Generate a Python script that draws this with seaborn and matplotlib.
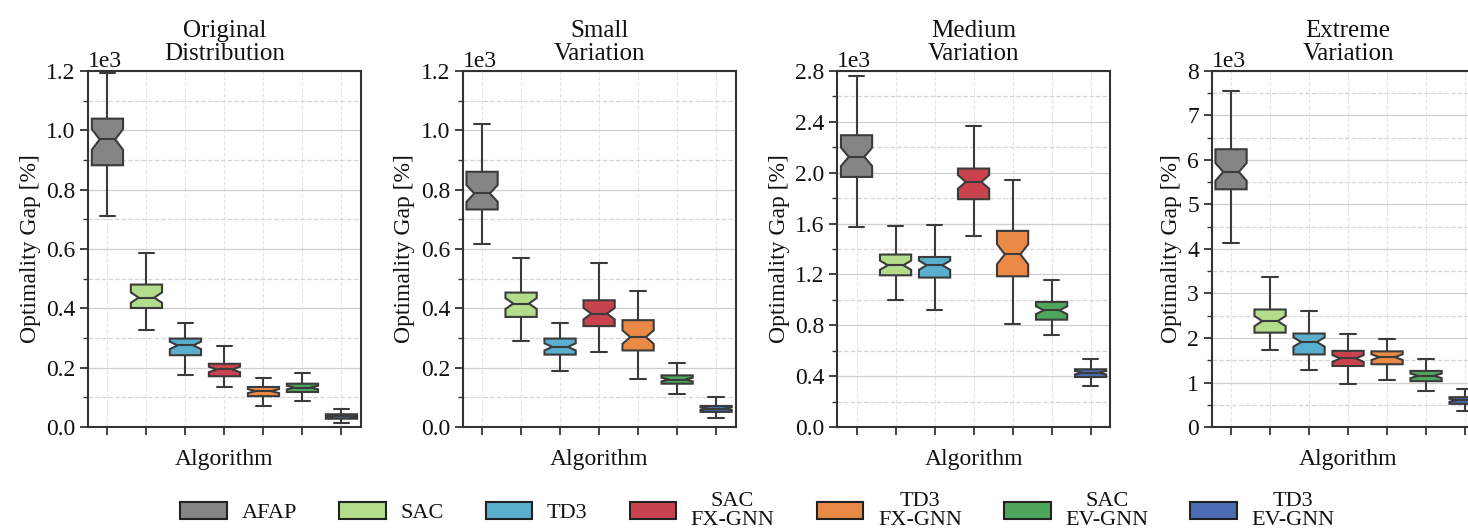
import numpy as np
import pandas as pd
import matplotlib
matplotlib.use("Agg")
import matplotlib.pyplot as plt
from matplotlib.ticker import MultipleLocator
import seaborn as sns

# ---------------- data (optimality gap in %) ----------------
algorithms = ["AFAP", "SAC", "TD3", "SAC\nFX-GNN", "TD3\nFX-GNN", "SAC\nEV-GNN", "TD3\nEV-GNN"]
colors = ["#858585", "#b3dc8b", "#5aafcf", "#c9434f", "#eb8a47", "#4ea65d", "#4a6db5"]
panel_titles = ["Original\nDistribution", "Small\nVariation", "Medium\nVariation", "Extreme\nVariation"]

# five-number summaries per algorithm: whisker low, Q1, median, Q3, whisker high
orig_low = [710, 326, 176, 135, 72, 87, 15]
orig_q1 = [882, 401, 242, 171, 104, 118, 28]
orig_med = [969, 436, 275, 194, 121, 133, 36]
orig_q3 = [1039, 480, 298, 213, 135, 146, 43]
orig_high = [1193, 588, 351, 272, 165, 182, 61]

small_low = [615, 289, 189, 253, 163, 110, 31]
small_q1 = [733, 371, 244, 340, 258, 146, 51]
small_med = [787, 416, 270, 382, 303, 160, 62]
small_q3 = [860, 453, 298, 427, 360, 174, 71]
small_high = [1022, 570, 351, 553, 458, 216, 101]

medium_low = [1573, 996, 918, 1502, 808, 721, 322]
medium_q1 = [1966, 1193, 1175, 1791, 1185, 844, 393]
medium_med = [2124, 1272, 1272, 1927, 1358, 918, 427]
medium_q3 = [2294, 1356, 1337, 2032, 1542, 983, 454]
medium_high = [2758, 1578, 1586, 2365, 1945, 1159, 537]

extreme_low = [4140, 1720, 1290, 970, 1060, 800, 370]
extreme_q1 = [5340, 2120, 1630, 1370, 1410, 1030, 520]
extreme_med = [5730, 2380, 1910, 1540, 1570, 1150, 600]
extreme_q3 = [6240, 2640, 2100, 1710, 1700, 1260, 670]
extreme_high = [7550, 3360, 2610, 2100, 1970, 1530, 860]

y_max = [1200, 1200, 2800, 8000]
y_major = [200, 200, 400, 1000]
y_minor = [100, 100, 200, 500]

summaries = [
    (orig_low, orig_q1, orig_med, orig_q3, orig_high),
    (small_low, small_q1, small_med, small_q3, small_high),
    (medium_low, medium_q1, medium_med, medium_q3, medium_high),
    (extreme_low, extreme_q1, extreme_med, extreme_q3, extreme_high),
]

SAMPLES_PER_STAT = 10  # sample size behind the notches (n = 5 * 10)


def summary_frame(stats):
    rows = []
    for i, alg in enumerate(algorithms):
        for series in stats:
            rows += [(alg, series[i])] * SAMPLES_PER_STAT
    return pd.DataFrame(rows, columns=["Algorithm", "Gap"])


# ---------------- style ----------------
sns.set_theme(style="white")
plt.rcParams["font.family"] = ["Liberation Serif", "DejaVu Serif"]
plt.rcParams["axes.edgecolor"] = "#333333"
plt.rcParams["text.color"] = "#111111"
plt.rcParams["axes.labelcolor"] = "#111111"
plt.rcParams["xtick.color"] = "#333333"
plt.rcParams["ytick.color"] = "#333333"
plt.rcParams["ytick.labelcolor"] = "#111111"

fig = plt.figure(figsize=(14.68, 5.30), dpi=100)

lefts = [0.0599, 0.3151, 0.5702, 0.8253]
bottom, width, height = 0.1943, 0.186, 0.672
edge = "#3b3b3b"

axes = []
for k in range(4):
    ax = fig.add_axes([lefts[k], bottom, width, height])
    axes.append(ax)
    df = summary_frame(summaries[k])
    sns.boxplot(
        data=df, x="Algorithm", y="Gap", hue="Algorithm",
        order=algorithms, hue_order=algorithms, palette=colors,
        saturation=1, notch=True, whis=(0, 100), width=0.8,
        linecolor=edge, linewidth=1.5, legend=(k == 0), ax=ax,
    )
    ax.set_ylim(0, y_max[k])
    ax.set_xlim(-0.5, 6.5)
    ax.yaxis.set_major_locator(MultipleLocator(y_major[k]))
    ax.yaxis.set_minor_locator(MultipleLocator(y_minor[k]))
    ax.ticklabel_format(axis="y", style="sci", scilimits=(3, 3))
    ax.yaxis.get_offset_text().set_fontsize(17)
    ax.set_xticks(range(len(algorithms)))
    ax.set_xticklabels([""] * len(algorithms))
    ax.tick_params(axis="both", which="major", direction="out", length=6, width=1.3,
                   labelsize=17, left=True, bottom=True, pad=3)
    ax.tick_params(axis="y", which="minor", direction="out", length=3.5, width=1.0, left=True)
    ax.set_axisbelow(True)
    ax.grid(True, which="major", axis="y", ls="-", color="#cfcfcf", lw=0.9)
    ax.grid(True, which="minor", axis="y", ls="--", color="#d6d6d6", lw=0.9)
    ax.grid(True, which="major", axis="x", ls="--", color="#e6e6e6", lw=0.8)
    for s in ax.spines.values():
        s.set_linewidth(1.5)
        s.set_color("#333333")
    ax.set_title(panel_titles[k], fontsize=18, pad=8, linespacing=1.05)
    ax.set_xlabel("Algorithm", fontsize=17, labelpad=7)
    ax.set_ylabel("Optimality Gap [%]", fontsize=17, labelpad=4)

leg0 = axes[0].get_legend()
handles = leg0.legend_handles
labels = [t.get_text() for t in leg0.get_texts()]
leg0.remove()

leg = fig.legend(handles, labels, loc="center", bbox_to_anchor=(0.516, 0.036), ncol=7,
                 frameon=False, fontsize=16, handlelength=2.1, handleheight=0.8,
                 handletextpad=0.65, columnspacing=1.9)
for t in leg.get_texts():
    t.set_multialignment("center")
    t.set_linespacing(0.95)
for h in leg.legend_handles:
    h.set_edgecolor("#222222")
    h.set_linewidth(1.5)

fig.savefig("out.png", dpi=100)
